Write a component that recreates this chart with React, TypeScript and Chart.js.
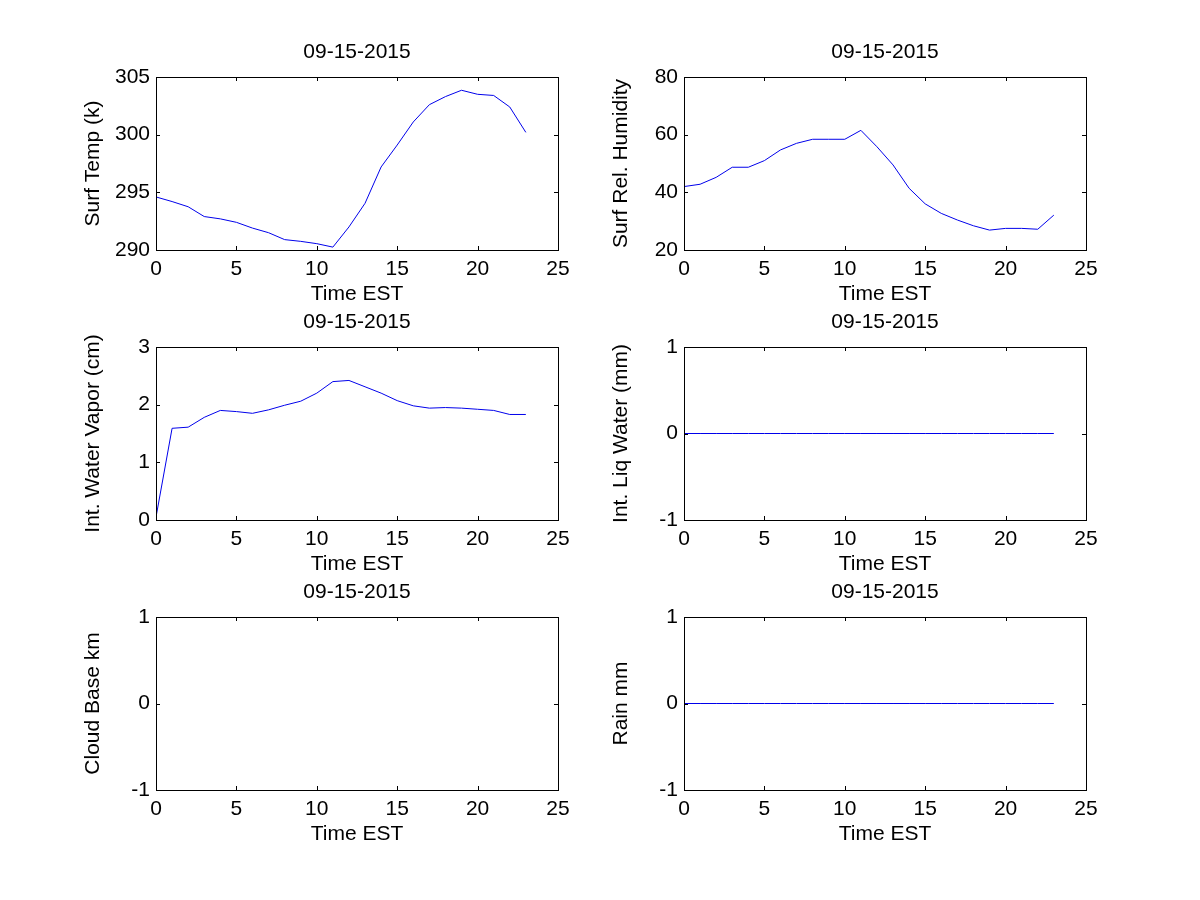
import React, { useEffect, useRef } from "react";
import { Chart, registerables } from "chart.js";

Chart.register(...registerables);

const hours = [0, 1, 2, 3, 4, 5, 6, 7, 8, 9, 10, 11, 12, 13, 14, 15, 16, 17, 18, 19, 20, 21, 22, 23];
const dateTitle = "09-15-2015";
const xLabel = "Time EST";
const xTicks = [0, 5, 10, 15, 20, 25];

const surfTemp = [294.6, 294.2, 293.75, 292.9, 292.7, 292.4, 291.9, 291.5, 290.9, 290.75, 290.55, 290.25, 292.0, 294.05, 297.2, 299.1, 301.1, 302.6, 303.3, 303.85, 303.5, 303.4, 302.4, 300.2];
const surfRH = [42.0, 42.8, 45.2, 48.7, 48.7, 51.0, 54.7, 57.0, 58.4, 58.4, 58.4, 61.5, 55.8, 49.5, 41.4, 36.0, 32.7, 30.4, 28.4, 26.9, 27.5, 27.5, 27.2, 32.1];
const waterVapor = [0.05, 1.59, 1.61, 1.78, 1.9, 1.88, 1.85, 1.91, 1.99, 2.06, 2.2, 2.4, 2.42, 2.31, 2.2, 2.07, 1.98, 1.94, 1.95, 1.94, 1.92, 1.9, 1.83, 1.83];
const liqWater = [0, 0, 0, 0, 0, 0, 0, 0, 0, 0, 0, 0, 0, 0, 0, 0, 0, 0, 0, 0, 0, 0, 0, 0];
const cloudBase: number[] = [];
const rain = [0, 0, 0, 0, 0, 0, 0, 0, 0, 0, 0, 0, 0, 0, 0, 0, 0, 0, 0, 0, 0, 0, 0, 0];

const tempTicks = [290, 295, 300, 305];
const rhTicks = [20, 40, 60, 80];
const vaporTicks = [0, 1, 2, 3];
const unitTicks = [-1, 0, 1];

const FONT = '"Liberation Sans", Arial, Helvetica, sans-serif';
const FS = 21;

type Panel = {
  yLabel: string;
  values: number[];
  yTicks: number[];
  left: number;
  top: number;
};

const panels: Panel[] = [
  { yLabel: "Surf Temp (k)", values: surfTemp, yTicks: tempTicks, left: 56, top: 37 },
  { yLabel: "Surf Rel. Humidity", values: surfRH, yTicks: rhTicks, left: 584, top: 37 },
  { yLabel: "Int. Water Vapor (cm)", values: waterVapor, yTicks: vaporTicks, left: 56, top: 307 },
  { yLabel: "Int. Liq Water (mm)", values: liqWater, yTicks: unitTicks, left: 584, top: 307 },
  { yLabel: "Cloud Base km", values: cloudBase, yTicks: unitTicks, left: 56, top: 577 },
  { yLabel: "Rain mm", values: rain, yTicks: unitTicks, left: 584, top: 577 },
];

const CW = 602;
const CH = 273;
const TICK = 4;

const boxPlugin = {
  id: "matlabBox",
  afterDatasetsDraw(chart: any) {
    const { ctx, chartArea } = chart;
    const { left, right, top, bottom } = chartArea;
    ctx.save();
    ctx.strokeStyle = "#000";
    ctx.lineWidth = 1;
    ctx.beginPath();
    const xs = chart.scales.x;
    const ys = chart.scales.y;
    xs.ticks.forEach((t: any) => {
      const px = Math.round(xs.getPixelForValue(t.value)) + 0.5;
      ctx.moveTo(px, bottom);
      ctx.lineTo(px, bottom - TICK);
      ctx.moveTo(px, top);
      ctx.lineTo(px, top + TICK);
    });
    ys.ticks.forEach((t: any) => {
      const py = Math.round(ys.getPixelForValue(t.value)) + 0.5;
      ctx.moveTo(left, py);
      ctx.lineTo(left + TICK, py);
      ctx.moveTo(right, py);
      ctx.lineTo(right - TICK, py);
    });
    ctx.stroke();
    ctx.strokeRect(Math.round(left) + 0.5, Math.round(top) + 0.5, Math.round(right - left), Math.round(bottom - top));
    ctx.restore();
  },
};

function SubPlot({ panel }: { panel: Panel }) {
  const ref = useRef<HTMLCanvasElement | null>(null);
  useEffect(() => {
    if (!ref.current) return;
    const yt = panel.yTicks;
    const data = panel.values.map((v, i) => ({ x: hours[i], y: v }));
    const chart = new Chart(ref.current, {
      type: "line",
      data: {
        datasets: [
          {
            data,
            borderColor: "rgb(0,0,235)",
            borderWidth: 1,
            pointRadius: 0,
            tension: 0,
            fill: false,
          },
        ],
      },
      plugins: [boxPlugin],
      options: {
        animation: false,
        responsive: false,
        events: [],
        layout: { padding: { left: 0, right: 100, top: 0, bottom: 0 } },
        plugins: {
          legend: { display: false },
          tooltip: { enabled: false },
          title: {
            display: true,
            fullSize: false,
            text: dateTitle,
            color: "#000",
            font: { family: FONT, size: FS, weight: "normal", lineHeight: 1.2 },
            padding: { top: 3, bottom: 11.8 },
          },
        },
        scales: {
          x: {
            type: "linear",
            min: xTicks[0],
            max: xTicks[xTicks.length - 1],
            grid: { display: false, drawTicks: false },
            border: { display: false },
            ticks: {
              stepSize: 5,
              color: "#000",
              padding: 7,
              font: { family: FONT, size: FS },
              maxRotation: 0,
            },
            title: {
              display: true,
              text: xLabel,
              color: "#000",
              font: { family: FONT, size: FS, lineHeight: 1.2 },
              padding: { top: 0, bottom: 3 },
            },
            afterFit: (s: any) => {
              s.height = 60;
            },
          },
          y: {
            type: "linear",
            min: yt[0],
            max: yt[yt.length - 1],
            grid: { display: false, drawTicks: false },
            border: { display: false },
            ticks: {
              stepSize: yt[1] - yt[0],
              color: "#000",
              padding: 6,
              font: { family: FONT, size: FS },
            },
            title: {
              display: true,
              text: panel.yLabel,
              color: "#000",
              font: { family: FONT, size: FS, lineHeight: 1.2 },
              padding: { top: 25, bottom: 0 },
            },
            afterFit: (s: any) => {
              s.width = 100;
            },
          },
        },
      } as any,
    });
    return () => chart.destroy();
  }, [panel]);
  return (
    <canvas
      ref={ref}
      width={CW}
      height={CH}
      style={{ position: "absolute", left: panel.left, top: panel.top, width: CW, height: CH }}
    />
  );
}

export default function App() {
  return (
    <div style={{ position: "absolute", left: 0, top: 0, width: 1200, height: 900, background: "#fff" }}>
      {panels.map((p, i) => (
        <SubPlot key={i} panel={p} />
      ))}
    </div>
  );
}
